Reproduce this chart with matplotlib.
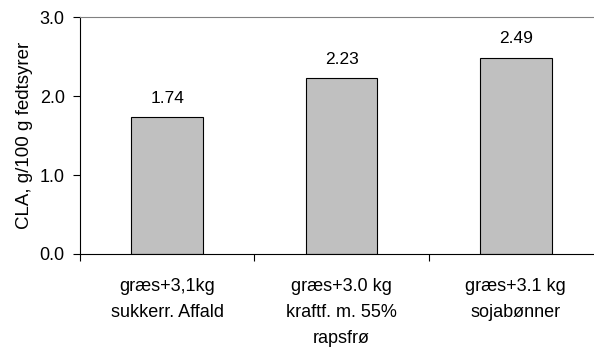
import matplotlib.pyplot as plt
import numpy as np

plt.rcParams['font.family'] = ['Liberation Sans', 'DejaVu Sans']

# data
categories = ['græs+3,1kg\nsukkerr. Affald',
              'græs+3.0 kg\nkraftf. m. 55%\nrapsfrø',
              'græs+3.1 kg\nsojabønner']
cla_values = [1.74, 2.23, 2.49]
yticks = [0.0, 1.0, 2.0, 3.0]

fig = plt.figure(figsize=(5.94, 3.47), dpi=100)
# axis runs past the right edge of the picture, as in the original
ax = fig.add_axes([80 / 594, 93 / 347, (603 - 80) / 594, (254 - 17.3) / 347])

x = np.arange(len(categories))
ax.bar(x, cla_values, width=0.41, color='#C0C0C0', edgecolor='black', linewidth=0.8)

for xi, v in zip(x, cla_values):
    ax.annotate(f'{v:.2f}', (xi, v), xytext=(0, 8), textcoords='offset points',
                ha='center', va='bottom', fontsize=12.5)

ax.set_xlim(-0.5, 2.5)
ax.set_ylim(0, 3.0)
ax.set_yticks(yticks)
ax.set_yticklabels([f'{t:.1f}' for t in yticks], fontsize=13)
ax.set_ylabel('CLA, g/100 g fedtsyrer', fontsize=13.5, labelpad=5)

# category labels between boundary ticks
ax.set_xticks([-0.5, 0.5, 1.5], minor=False)
ax.set_xticklabels([])
ax.set_xticks(x, minor=True)
ax.set_xticklabels(categories, minor=True, fontsize=13, linespacing=1.72)
ax.tick_params(axis='x', which='minor', length=0, pad=17)
ax.tick_params(axis='x', which='major', length=5, width=0.8, direction='out')
ax.tick_params(axis='y', length=5, width=0.8, direction='out', pad=6)

ax.spines['right'].set_visible(False)
ax.spines['top'].set_color('#808080')
ax.spines['top'].set_linewidth(0.8)
ax.spines['left'].set_linewidth(0.8)
ax.spines['bottom'].set_linewidth(0.8)

fig.savefig('out.png', dpi=100)
